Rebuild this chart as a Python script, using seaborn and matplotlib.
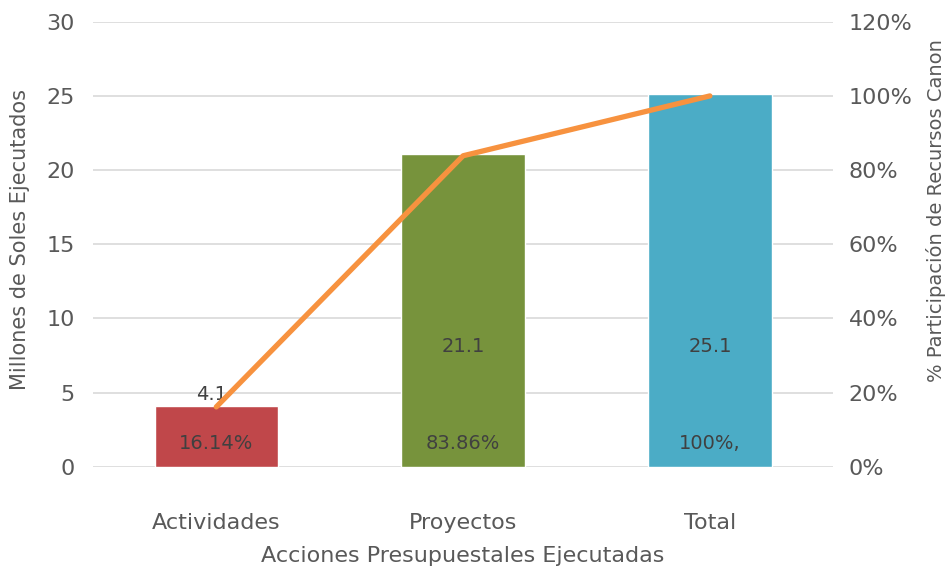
import numpy as np
import pandas as pd
import seaborn as sns
import matplotlib.pyplot as plt
from matplotlib.ticker import PercentFormatter

#%% data
categorias = ['Actividades', 'Proyectos', 'Total']
millones = [4.1, 21.1, 25.1]
participacion = [16.14, 83.86, 100.0]
etiquetas_pct = ['16.14%', '83.86%', '100%,']
colores = ['#C0474A', '#77933C', '#4BACC6']

df = pd.DataFrame({'cat': categorias, 'val': millones, 'pct': participacion})

#%% style
sns.set_theme(style='white')
plt.rcParams['font.family'] = ['DejaVu Sans']
gris = '#595959'
fs = 16

fig, ax = plt.subplots(figsize=(9.48, 5.72), dpi=100)
fig.subplots_adjust(left=0.098, right=0.879, top=0.962, bottom=0.184)

sns.barplot(data=df, x='cat', y='val', hue='cat', palette=colores,
            width=0.5, saturation=1, legend=False, ax=ax, zorder=2)
ax.set_ylim(0, 30)
ax.set_xlim(-0.5, 2.5)
ax.set_yticks(np.arange(0, 31, 5))
ax.yaxis.grid(True, color='#D9D9D9', linewidth=1.2, zorder=0)
ax.set_axisbelow(True)
for s in ax.spines.values():
    s.set_visible(False)
ax.tick_params(axis='both', length=0, labelsize=fs, colors=gris)
ax.tick_params(axis='x', pad=33)
ax.tick_params(axis='y', pad=13)
ax.set_xlabel('Acciones Presupuestales Ejecutadas', fontsize=fs, color=gris, labelpad=10)
ax.set_ylabel('Millones de Soles Ejecutados', fontsize=15, color=gris)
ax.yaxis.set_label_coords(-0.085, 0.51)

# value labels
for i, (v, p) in enumerate(zip(millones, etiquetas_pct)):
    if v < 8:
        ax.text(i - 0.02, v + 0.1, f'{v}', ha='center', va='bottom', fontsize=14, color='#404040')
    else:
        ax.text(i, 8.1, f'{v}', ha='center', va='center', fontsize=14, color='#404040')
    ax.text(i, 1.55, p, ha='center', va='center', fontsize=14, color='#404040')

#%% secondary axis
ax2 = ax.twinx()
sns.lineplot(x=np.arange(len(categorias)), y=participacion, color='#F7923F',
             linewidth=3.8, ax=ax2, zorder=3)
ax2.set_ylim(0, 120)
ax2.set_yticks(np.arange(0, 121, 20))
ax2.yaxis.set_major_formatter(PercentFormatter(decimals=0))
for s in ax2.spines.values():
    s.set_visible(False)
ax2.tick_params(axis='y', length=0, labelsize=fs, colors=gris, pad=11)
ax2.set_ylabel('% Participación de Recursos Canon', fontsize=14, color=gris)
ax2.yaxis.set_label_coords(1.125, 0.575)
ax2.grid(False)

fig.savefig('out.png', dpi=100)
